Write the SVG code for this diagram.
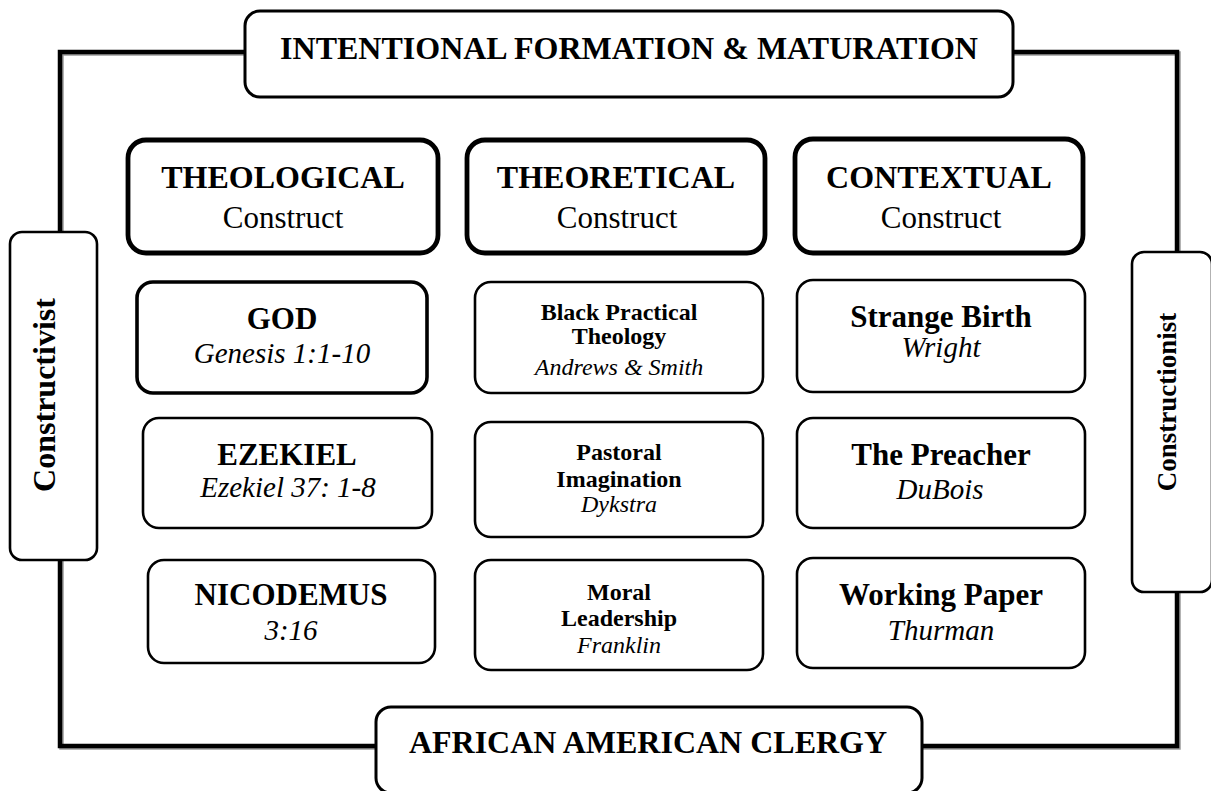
<svg xmlns="http://www.w3.org/2000/svg" width="1211" height="791" viewBox="0 0 1211 791">
<style>
.frame{fill:none;stroke:#000;stroke-width:4.5;stroke-linejoin:miter}
.shadow{fill:none;stroke:#9a9a9a;stroke-width:4.5}
.box{fill:#fff;stroke:#000;stroke-width:2.6}
.cbox{fill:#fff;stroke:#000;stroke-width:4.8}
.t{font-family:"Liberation Serif","Times New Roman",serif;fill:#000;text-anchor:middle}
.b{font-weight:bold}
.i{font-style:italic}
.h32{font-size:32px}
.h31{font-size:31px}
.s24{font-size:24px}
.r30{font-size:31px}
.i29{font-size:29px}
</style>
<rect width="1211" height="791" fill="#fff"/>
<g id="connectors">
<path class="shadow" d="M245,53.5 H61.5 V747.5 H376 M1013,53.5 H1178.5 V747.5 H920"/>
<path class="frame" d="M245,52 H60 V746 H376 M1013,52 H1177 V746 H920"/>
</g>
<g id="banner-top">
<rect class="box" x="245" y="11" width="768" height="86" rx="15" style="stroke-width:3"/>
<text class="t b h32" x="629" y="59">INTENTIONAL FORMATION &amp; MATURATION</text>
</g>
<g id="banner-bottom">
<rect class="box" x="376" y="707" width="546" height="86" rx="15" style="stroke-width:3"/>
<text class="t b h32" x="648" y="753">AFRICAN AMERICAN CLERGY</text>
</g>
<g id="constructivist">
<rect class="box" x="10" y="232" width="87" height="328" rx="12"/>
<text class="t b h32" transform="translate(55,395) rotate(-90)">Constructivist</text>
</g>
<g id="constructionist">
<rect class="box" x="1132" y="252" width="80" height="340" rx="12"/>
<text class="t b" style="font-size:27px" transform="translate(1176,402) rotate(-90)">Constructionist</text>
</g>
<g id="theological">
<rect class="cbox" x="128" y="140" width="310" height="113" rx="18"/>
<text class="t b h32" x="283" y="188">THEOLOGICAL</text>
<text class="t r30" x="283" y="228">Construct</text>
</g>
<g id="theoretical">
<rect class="cbox" x="467" y="140" width="298" height="113" rx="18"/>
<text class="t b h32" x="616" y="188">THEORETICAL</text>
<text class="t r30" x="617" y="228">Construct</text>
</g>
<g id="contextual">
<rect class="cbox" x="795" y="139" width="288" height="114" rx="18"/>
<text class="t b h32" x="939" y="188">CONTEXTUAL</text>
<text class="t r30" x="941" y="228">Construct</text>
</g>
<g id="god">
<rect class="box" x="137" y="282" width="290" height="111" rx="16" style="stroke-width:3.6"/>
<text class="t b h31" x="282" y="329">GOD</text>
<text class="t i i29" x="282" y="363">Genesis 1:1-10</text>
</g>
<g id="black-practical">
<rect class="box" x="475" y="282" width="288" height="111" rx="16"/>
<text class="t b s24" x="619" y="320">Black Practical</text>
<text class="t b s24" x="619" y="344">Theology</text>
<text class="t i s24" x="619" y="375">Andrews &amp; Smith</text>
</g>
<g id="strange-birth">
<rect class="box" x="797" y="280" width="288" height="112" rx="16"/>
<text class="t b h31" x="941" y="327">Strange Birth</text>
<text class="t i i29" x="941" y="357">Wright</text>
</g>
<g id="ezekiel">
<rect class="box" x="143" y="418" width="289" height="110" rx="16"/>
<text class="t b h31" x="287" y="465">EZEKIEL</text>
<text class="t i i29" x="288" y="497">Ezekiel 37: 1-8</text>
</g>
<g id="pastoral">
<rect class="box" x="475" y="422" width="288" height="115" rx="16"/>
<text class="t b s24" x="619" y="460">Pastoral</text>
<text class="t b s24" x="619" y="487">Imagination</text>
<text class="t i s24" x="619" y="512">Dykstra</text>
</g>
<g id="preacher">
<rect class="box" x="797" y="418" width="288" height="110" rx="16"/>
<text class="t b h31" x="941" y="465">The Preacher</text>
<text class="t i i29" x="940" y="499">DuBois</text>
</g>
<g id="nicodemus">
<rect class="box" x="148" y="560" width="287" height="103" rx="16"/>
<text class="t b h31" x="291" y="605">NICODEMUS</text>
<text class="t i i29" x="291" y="640">3:16</text>
</g>
<g id="moral">
<rect class="box" x="475" y="560" width="288" height="110" rx="16"/>
<text class="t b s24" x="619" y="600">Moral</text>
<text class="t b s24" x="619" y="626">Leadership</text>
<text class="t i s24" x="619" y="653">Franklin</text>
</g>
<g id="working-paper">
<rect class="box" x="797" y="558" width="288" height="110" rx="16"/>
<text class="t b h31" x="941" y="605">Working Paper</text>
<text class="t i i29" x="941" y="640">Thurman</text>
</g>
</svg>
